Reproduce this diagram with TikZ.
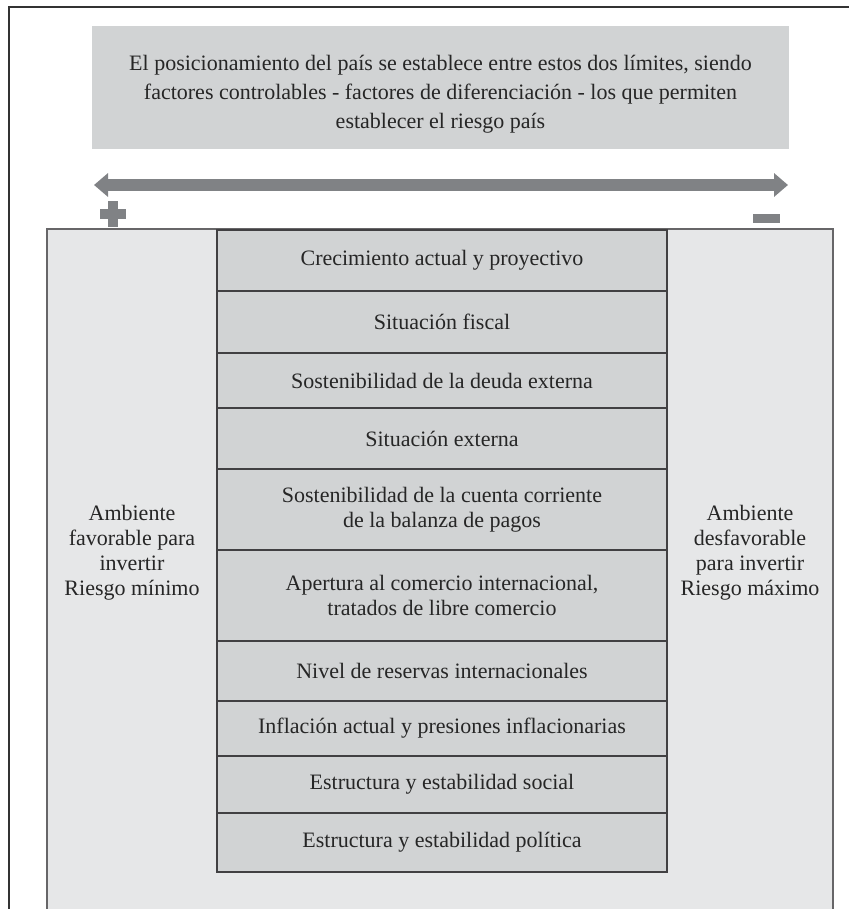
\documentclass[tikz,border=0pt]{standalone}
\usepackage{fontspec}
\setmainfont{Liberation Serif}
\usetikzlibrary{arrows.meta}
\definecolor{grisclaro}{RGB}{230,231,232}
\definecolor{grismedio}{RGB}{209,211,212}
\definecolor{grisflecha}{RGB}{128,130,133}
\definecolor{grisborde}{RGB}{65,64,66}
\tikzset{
  texto/.style={font=\fontsize{22}{25}\selectfont, align=center, text=black!85},
  fila/.style={texto, draw=grisborde, line width=1.3pt, fill=grismedio,
    minimum width=450pt, inner sep=0pt},
}
\begin{document}
\begin{tikzpicture}[x=1pt,y=-1pt]
        \useasboundingbox (0,0) rectangle (849,909);
        % marco exterior
        \draw[black!80, line width=2pt] (9,909) -- (9,7.5) -- (849,7.5);
        % recuadro del titulo
        \fill[grismedio] (92,26) rectangle (789,149);
        \node[texto, font=\fontsize{22}{29}\selectfont] (titulo) at (440.5,94)
          {El posicionamiento del país se establece entre estos dos límites, siendo\\
           factores controlables - factores de diferenciación - los que permiten\\
           establecer el riesgo país};
        % flecha doble
        \coordinate (izq) at (94,185);
        \coordinate (der) at (788,185);
        \draw[grisflecha, line width=11.5pt,
          {Triangle[length=14pt,width=23pt]}-{Triangle[length=14pt,width=23pt]}] (izq) -- (der);
        % signos
        \fill[grisflecha] (108,201) rectangle (118,227);
        \fill[grisflecha] (99.5,209) rectangle (126,219);
        \fill[grisflecha] (753,214) rectangle (780,223.5);
        % fondo
        \filldraw[fill=grisclaro, draw=grisborde!80, line width=1.3pt]
          (47,912) -- (47,229) -- (833,229) -- (833,912);
        % factores
        \node[fila, minimum height=61pt] (f1) at (442,260.5) {Crecimiento actual y proyectivo};
        \node[fila, minimum height=62pt] (f2) at (442,322) {Situación fiscal};
        \node[fila, minimum height=55pt] (f3) at (442,380.5) {Sostenibilidad de la deuda externa};
        \node[fila, minimum height=61pt] (f4) at (442,438.5) {Situación externa};
        \node[fila, minimum height=81pt] (f5) at (442,509.5) {Sostenibilidad de la cuenta corriente\\de la balanza de pagos};
        \node[fila, minimum height=91pt] (f6) at (442,595.5) {Apertura al comercio internacional,\\tratados de libre comercio};
        \node[fila, minimum height=60pt] (f7) at (442,671) {Nivel de reservas internacionales};
        \node[fila, minimum height=55pt] (f8) at (442,728.5) {Inflación actual y presiones inflacionarias};
        \node[fila, minimum height=57pt] (f9) at (442,784.5) {Estructura y estabilidad social};
        \node[fila, minimum height=59pt] (f10) at (442,842.5) {Estructura y estabilidad política};
        % ambientes
        \node[texto] (favorable) at (132,553) {Ambiente\\favorable para\\invertir\\Riesgo mínimo};
        \node[texto] (desfavorable) at (750,553) {Ambiente\\desfavorable\\para invertir\\Riesgo máximo};
\end{tikzpicture}
\end{document}
